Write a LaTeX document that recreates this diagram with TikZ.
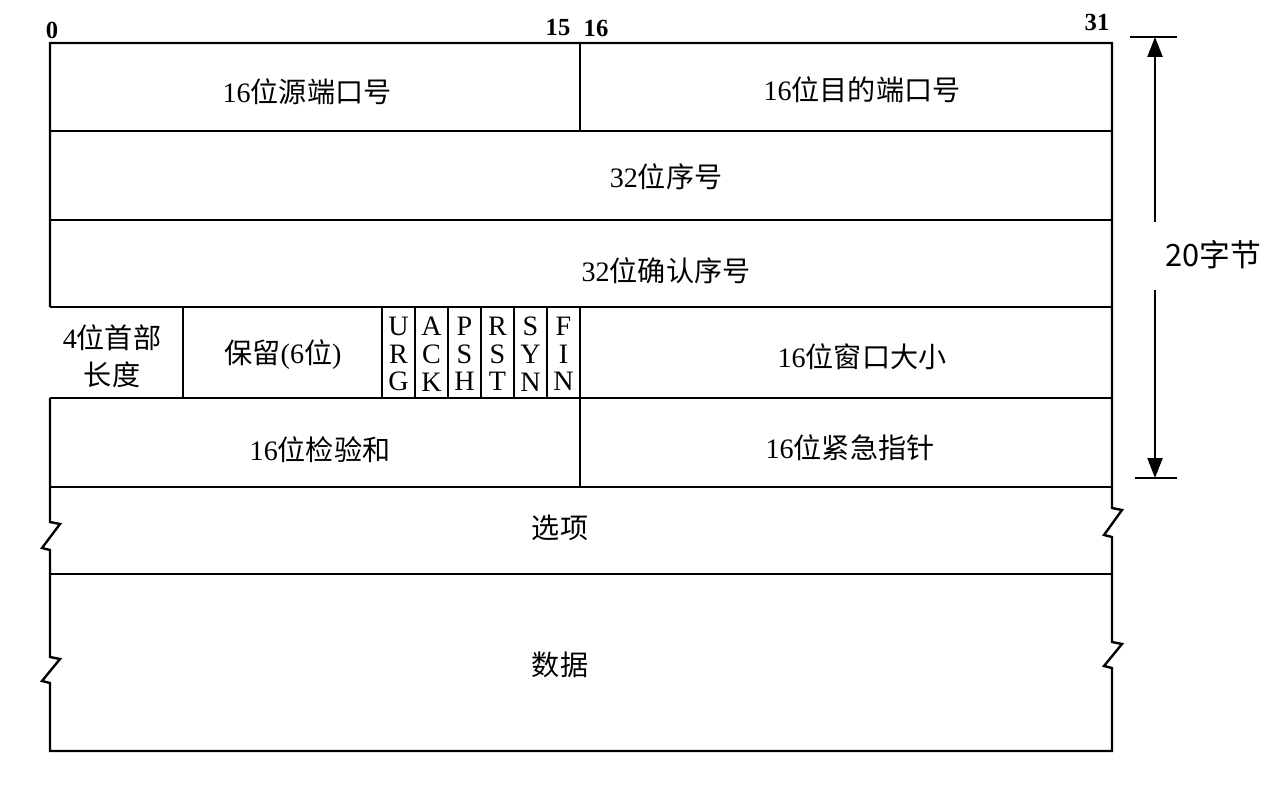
\documentclass[tikz,border=0pt]{standalone}
\usepackage{fontspec}
\setmainfont{Liberation Serif}
\newfontfamily\cjk{Noto Sans CJK SC}
\usetikzlibrary{positioning,arrows.meta}
\newcommand{\zh}[1]{{\cjk #1}}

\begin{document}
\begin{tikzpicture}[x=0.02cm,y=-0.02cm,line width=1.35pt,
                cell/.style={font=\fontsize{16}{21}\selectfont,inner sep=0pt,align=center},
                flag/.style={font=\fontsize{16}{15.8}\selectfont,inner sep=0pt,align=center},
                bitno/.style={font=\fontsize{14}{14}\selectfont\bfseries,inner sep=0pt}]
  \useasboundingbox (0,0) rectangle (1275,786);

  % outer frame with break marks
  \draw (50,307) -- (50,43) -- (1112,43) -- (1112,508) -- (1122,510) -- (1104,535)
        -- (1112,537) -- (1112,642) -- (1122,644) -- (1104,666) -- (1112,668)
        -- (1112,751) -- (50,751) -- (50,683) -- (42,681) -- (60,659) -- (50,657)
        -- (50,550) -- (42,548) -- (60,524) -- (50,522) -- (50,398);

  % rows
  \foreach \y in {131,220,307,398,487,574}
    \draw (50,\y) -- (1112,\y);
  \draw (580,43) -- (580,131);
  \draw (183,307) -- (183,398);
  \draw (580,398) -- (580,487);
  \foreach \x in {382,415,448,481,514,547,580}
    \draw (\x,307) -- (\x,398);

  % bit numbers
  \node[bitno] (b0)  at (52,30)   {0};
  \node[bitno] (b15) at (558,28)  {15};
  \node[bitno] (b16) at (596,28)  {16};
  \node[bitno] (b31) at (1097,22) {31};

  % fields
  \node[cell] (srcport) at (307,92)  {16\zh{位源端口号}};
  \node[cell] (dstport) at (862,90)  {16\zh{位目的端口号}};
  \node[cell] (seq)     at (666,177) {32\zh{位序号}};
  \node[cell] (ack)     at (666,271) {32\zh{位确认序号}};
  \node[cell] (hlen)    at (112,356) {4\zh{位首部}\\\zh{长度}};
  \node[cell] (rsvd)    at (283,355) {\zh{保留}(6\zh{位})};
  \node[cell] (win)     at (862,357) {16\zh{位窗口大小}};
  \node[cell] (csum)    at (320,450) {16\zh{位检验和}};
  \node[cell] (urgp)    at (850,448) {16\zh{位紧急指针}};
  \node[cell] (opts)    at (560,528) {\zh{选项}};
  \node[cell] (data)    at (560,665) {\zh{数据}};

  \foreach \a/\b/\c [count=\i] in {U/R/G,A/C/K,P/S/H,R/S/T,S/Y/N,F/I/N}
    \node[flag] (flag\i) at ({382+33*(\i-0.5)},354) {\a\\\b\\\c};

  % header length
  \node[font=\cjk\fontsize{17.5}{20}\selectfont,inner sep=0pt] (bytes) at (1213,255) {20字节};
  \coordinate (dimtop) at (1155,37);
  \coordinate (dimbot) at (1155,478);
  \coordinate (gaptop) at (1155,222);
  \coordinate (gapbot) at (1155,290);
  \draw (1130,37) -- (1177,37);
  \draw (1135,478) -- (1177,478);
  \draw[-{Triangle[length=0.4cm,width=0.3cm]}] (gaptop) -- (dimtop);
  \draw[-{Triangle[length=0.4cm,width=0.3cm]}] (gapbot) -- (dimbot);
\end{tikzpicture}
\end{document}
